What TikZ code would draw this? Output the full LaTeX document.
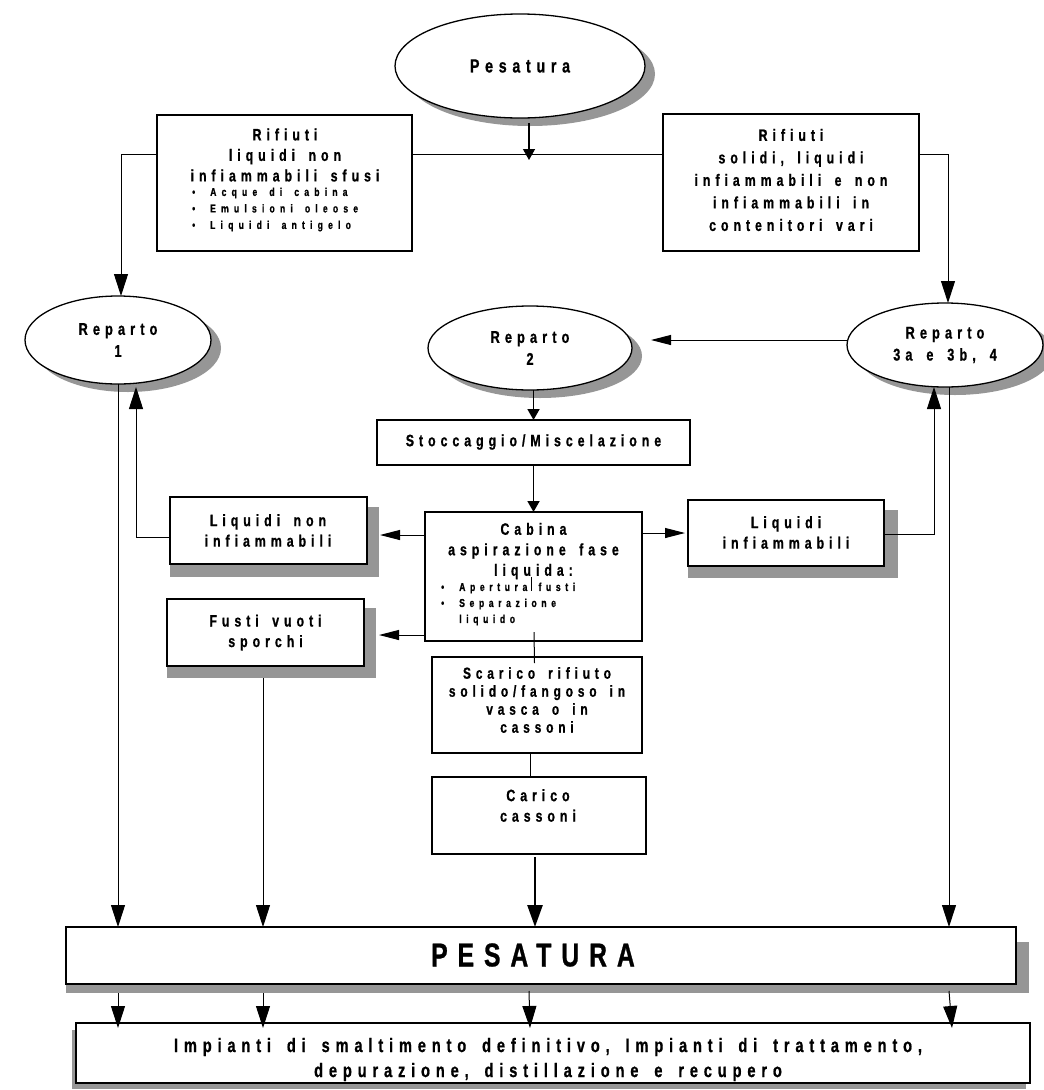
\documentclass[tikz,border=0pt]{standalone}
\usepackage{fontspec}
\setmainfont{Liberation Sans}[FakeStretch=0.75,LetterSpace=30,WordSpace=1.6,FakeBold=0.8]
\usetikzlibrary{arrows.meta,calc,shapes.geometric}
\definecolor{shd}{RGB}{150,150,150}
\newcommand\mkbox[6][]{%
  \pgfmathsetmacro\mkbw{#5-#3}\pgfmathsetmacro\mkbh{#6-#4}%
  \node[boxst,minimum width=\mkbw pt,minimum height=\mkbh pt,anchor=north west,#1] (#2) at (#3,#4) {};}
\newcommand\bul{\makebox[18pt][l]{\textbullet}}
\begin{document}
\begin{tikzpicture}[x=1pt,y=-1pt,
  boxst/.style={draw,fill=white,line width=1.3pt,inner sep=0pt,outer sep=0pt},
  ell/.style={ellipse,draw,fill=white,line width=1.3pt,inner sep=0pt,outer sep=0pt,align=center,font=\bfseries\fontsize{17}{22}\selectfont},
  txt/.style={align=center,inner sep=0pt,font=\bfseries\fontsize{16.5}{20.5}\selectfont},
  bull/.style={align=left,inner sep=0pt,anchor=west,font=\bfseries\fontsize{11.5}{16.5}\selectfont\addfontfeatures{LetterSpace=45}},
  shadow/.style={fill=shd},
  conn/.style={line width=1pt},
  big/.style={conn,-{Triangle[length=22pt,width=14pt]}},
  med/.style={conn,-{Triangle[length=20pt,width=10pt]}},
  sml/.style={line width=1.8pt,-{Triangle[length=11pt,width=12pt]}},
]
\useasboundingbox (0,0) rectangle (1044,1090);

% ---- shadows
\fill[shadow] (530,74) ellipse [x radius=125, y radius=52];
\fill[shadow] (128,348) ellipse [x radius=93, y radius=44];
\fill[shadow] (540,356) ellipse [x radius=102, y radius=42];
\fill[shadow] (955,353) ellipse [x radius=98, y radius=42];
\fill[shadow] (170,507) rectangle (379,577);
\fill[shadow] (688,510) rectangle (898,578);
\fill[shadow] (167,608) rectangle (376,678);
\fill[shadow] (66,942) rectangle (1029,993);
\fill[shadow] (72,1030) rectangle (1026,1089);

% ---- ellipses
\node[ell,minimum width=250pt,minimum height=104pt,font=\bfseries\fontsize{19}{22}\selectfont] (pes) at (520,66) {Pesatura};
\node[ell,minimum width=186pt,minimum height=88pt] (r1) at (118,340) {Reparto\\1};
\node[ell,minimum width=204pt,minimum height=84pt] (r2) at (530,348) {Reparto\\2};
\node[ell,minimum width=196pt,minimum height=84pt] (r3) at (945,345) {Reparto\\3a e 3b, 4};

% ---- boxes
\mkbox{rl}{157}{115}{412}{251}
\mkbox{rr}{663}{114}{919}{251}
\mkbox{sto}{377}{420}{690}{465}
\mkbox{cab}{425}{512}{642}{641}
\mkbox{lnon}{170}{497}{367}{564}
\mkbox{linf}{688}{500}{884}{566}
\mkbox{fus}{167}{599}{364}{666}
\mkbox{sca}{432}{657}{642}{753}
\mkbox{car}{432}{777}{646}{854}
\mkbox{PES}{66}{927}{1016}{984}
\mkbox{imp}{76}{1023}{1030}{1083}

% ---- texts
\node[txt] (trl) at (285,155) {Rifiuti\\liquidi non\\infiammabili sfusi};
\node[bull] (brl) at (192,209.5) {\bul Acque di cabina\\\bul Emulsioni oleose\\\bul Liquidi antigelo};
\node[txt,font=\bfseries\fontsize{16.5}{22.5}\selectfont] (trr) at (791,180) {Rifiuti\\solidi, liquidi\\infiammabili e non\\infiammabili in\\contenitori vari};
\node[txt] (tsto) at (533.5,442) {Stoccaggio/Miscelazione};
\node[txt] (tcab) at (533.5,551) {Cabina\\aspirazione fase\\liquida:};
\node[bull,font=\bfseries\fontsize{11.5}{16}\selectfont\addfontfeatures{LetterSpace=40}] (bcab) at (441,604) {\bul Apertura fusti\\\bul Separazione\\\hspace*{18pt}liquido};
\node[txt] (tlnon) at (268,530.5) {Liquidi non\\infiammabili};
\node[txt] (tlinf) at (786,532.5) {Liquidi\\infiammabili};
\node[txt] (tfus) at (265.5,632.5) {Fusti vuoti\\sporchi};
\node[txt,font=\bfseries\fontsize{16}{18}\selectfont] (tsca) at (537,700) {Scarico rifiuto\\solido/fangoso in\\vasca o in\\cassoni};
\node[txt] (tcar) at (538,805.5) {Carico\\cassoni};
\node[txt,font=\bfseries\fontsize{33}{36}\selectfont] (tPES) at (533,955) {PESATURA};
\node[txt,font=\bfseries\fontsize{19.5}{25}\selectfont] (timp) at (548,1059.5) {Impianti di smaltimento definitivo, Impianti di trattamento,\\depurazione, distillazione e recupero};

% ---- top distribution
\coordinate (jl) at (121,154);
\coordinate (jr) at (948,154);
\coordinate (pa) at (529,123);
\coordinate (pb) at (529,160);
\draw[conn] (jl) -- (rl.west |- jl);
\draw[conn] (rl.east |- jl) -- (rr.west |- jl);
\draw[conn] (rr.east |- jr) -- (jr);
\draw[sml,line width=1.3pt] (pa) -- (pb);
\draw[big] (jl) -- (jl |- r1.north);
\draw[big] (jr) -- (jr |- r3.north);

% ---- reparto links
\coordinate (a32) at (651,340);
\draw[med] (r3.west |- a32) -- (a32);
\draw[sml] (sto.north |- r2.south) -- (sto.north);
\draw[sml] (sto.south) -- (sto.south |- cab.north);

% ---- cabina outputs
\draw[med] ($(cab.north west)+(0,23)$) coordinate (c1) -- ($(lnon.east |- c1)+(13,0)$);
\draw[med] ($(cab.north east)+(0,21)$) coordinate (c2) -- ($(linf.west |- c2)+(-3,0)$);
\draw[med] ($(cab.south west)+(0,-6)$) coordinate (c7) -- ($(fus.east |- c7)+(15,0)$);
\draw[big] ($(lnon.north west)+(0,40)$) -| ($(r1.south)+(18,3)$);
\draw[big] ($(linf.north east)+(0,34)$) -| ($(r3.south)+(-11,0)$);
\draw[conn] ($(cab.north)+(-2.5,65)$) -- ++(0,14);
\draw[conn] ($(cab.south)+(0.5,-9)$) -- ($(sca.north)+(-2.5,6)$);
\draw[conn] ($(sca.south)+(-7,0)$) coordinate (c5) -- (c5 |- car.north);

% ---- to PESATURA
\coordinate (xa) at (r1.south);
\draw[big] (xa) -- (xa |- PES.north);
\draw[big] ($(fus.south)+(-2.5,12)$) coordinate (xb) -- (xb |- PES.north);
\draw[line width=2.6pt,-{Triangle[length=22pt,width=15pt]}] ($(car.south)+(-4,3)$) coordinate (xc) -- (xc |- PES.north);
\draw[big] ($(r3.south)+(4,0)$) coordinate (xd) -- (xd |- PES.north);

% ---- to Impianti
\draw[big] ($(PES.south -| xa)+(0,9)$) -- ($(imp.north -| xa)+(0,5)$);
\draw[big] ($(PES.south -| xb)+(0,9)$) -- ($(imp.north -| xb)+(0,5)$);
\draw[big] ($(PES.south -| xc)+(-6,7)$) -- ($(imp.north -| xc)+(-5,5)$);
\draw[big] ($(PES.south -| xd)+(0,7)$) -- ($(imp.north -| xd)+(3,5)$);
\end{tikzpicture}
\end{document}
